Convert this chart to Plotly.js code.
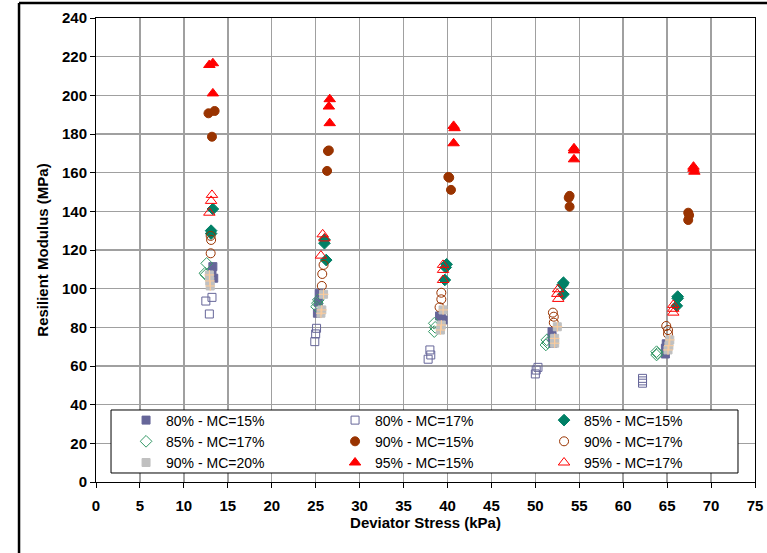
<!DOCTYPE html>
<html>
<head>
<meta charset="utf-8">
<script src="https://cdn.plot.ly/plotly-3.0.1.min.js"></script>
<style>
  html, body { margin: 0; padding: 0; background: #ffffff; }
  #chart { width: 767px; height: 553px; }
</style>
</head>
<body>
<div id="chart"></div>
<script>
// ---- Data ----
var seriesNames = ["80% - MC=15%", "80% - MC=17%", "85% - MC=15%", "85% - MC=17%",
                   "90% - MC=15%", "90% - MC=17%", "90% - MC=20%", "95% - MC=15%", "95% - MC=17%"];

var x80_15 = [13.3, 13.4, 13.2, 25.4, 25.2, 25.3, 39.1, 39.5, 39.3, 51.9, 52.0, 51.9, 64.8, 64.8, 64.9];
var y80_15 = [111.4, 105.4, 108.5, 97.6, 87.3, 93.0, 85.9, 83.8, 84.8, 77.8, 71.8, 74.8, 69.2, 66.2, 71.5];

var x80_17 = [12.5, 13.2, 12.9, 25.1, 25.0, 24.9, 38.0, 37.8, 38.1, 50.3, 50.0, 50.1, 62.2, 62.2, 62.2];
var y80_17 = [93.6, 95.5, 86.9, 79.5, 76.6, 72.6, 68.3, 63.5, 65.7, 59.3, 55.9, 57.9, 53.6, 52.3, 51.1];

var x85_15 = [13.3, 13.1, 13.1, 26.0, 26.2, 26.0, 39.9, 39.7, 39.8, 53.2, 53.2, 53.1, 66.2, 66.1, 66.2];
var y85_15 = [141.2, 130.0, 128.5, 123.5, 114.8, 125.3, 112.6, 104.5, 111.0, 103.1, 97.1, 102.0, 95.9, 91.1, 95.0];

var x85_17 = [12.6, 12.4, 12.5, 25.3, 25.1, 25.2, 38.5, 38.5, 38.6, 51.3, 51.2, 51.4, 63.8, 63.8, 63.9];
var y85_17 = [113.1, 108.0, 107.2, 94.2, 90.7, 92.5, 82.1, 77.8, 80.0, 73.5, 70.9, 72.0, 67.4, 65.7, 66.5];

var x90_15 = [12.8, 13.5, 13.2, 26.4, 26.3, 26.5, 40.2, 40.4, 40.1, 53.9, 53.9, 53.8, 67.4, 67.4, 67.5];
var y90_15 = [190.7, 191.9, 178.6, 171.2, 160.9, 171.5, 157.4, 151.1, 157.8, 148.0, 142.4, 147.0, 139.3, 135.5, 138.0];

var x90_17 = [13.05, 13.1, 13.05, 25.9, 25.75, 25.7, 39.3, 39.3, 39.1, 52.0, 52.1, 52.1, 64.9, 65.1, 65.1];
var y90_17 = [127.3, 125.2, 118.3, 112.3, 107.6, 101.4, 97.9, 94.5, 90.4, 87.6, 85.5, 82.4, 80.7, 78.6, 76.6];

var x90_20 = [12.9, 13.0, 12.95, 25.9, 25.7, 25.6, 39.5, 39.3, 39.2, 52.5, 52.2, 52.2, 65.3, 65.2, 65.1];
var y90_20 = [107.1, 101.4, 104.0, 97.1, 89.0, 87.3, 89.0, 81.2, 78.6, 80.3, 74.3, 71.8, 73.5, 70.5, 68.3];

var x95_15 = [12.9, 13.3, 13.3, 26.6, 26.5, 26.6, 40.7, 40.8, 40.7, 54.4, 54.4, 54.4, 68.0, 68.0, 68.1];
var y95_15 = [215.7, 216.6, 201.0, 198.0, 194.2, 185.6, 184.2, 183.0, 175.2, 172.6, 171.5, 166.9, 163.1, 162.0, 160.5];

var x95_17 = [13.2, 13.1, 12.9, 25.8, 25.6, 26.0, 39.5, 39.5, 39.5, 52.6, 52.5, 52.6, 65.7, 65.7, 65.7];
var y95_17 = [148.5, 145.4, 139.3, 128.1, 117.1, 126.0, 112.3, 109.7, 104.5, 99.7, 97.3, 94.7, 91.6, 89.6, 87.6];

var xTickVals = [0, 5, 10, 15, 20, 25, 30, 35, 40, 45, 50, 55, 60, 65, 70, 75];
var yTickVals = [0, 20, 40, 60, 80, 100, 120, 140, 160, 180, 200, 220, 240];

// ---- Traces ----
function tr(name, xs, ys, symbol, size, fill, lineColor, lineWidth) {
  return {
    type: 'scatter', mode: 'markers', name: name, x: xs, y: ys,
    marker: { symbol: symbol, size: size, color: fill,
              line: { color: lineColor, width: lineWidth } },
    hoverinfo: 'x+y+name'
  };
}

// cross overlay for the grey "90% - MC=20%" markers (no legend entry of its own)
var cross90_20 = tr(seriesNames[6], x90_20, y90_20, 'cross-thin-open', 7, '#ffcc99', '#f5c08a', 1);
cross90_20.showlegend = false;

var data = [
  tr(seriesNames[0], x80_15, y80_15, 'square', 8, '#666699', '#666699', 1),
  tr(seriesNames[1], x80_17, y80_17, 'square-open', 8, '#666699', '#666699', 1),
  tr(seriesNames[2], x85_15, y85_15, 'diamond', 9, '#008066', '#008066', 1),
  tr(seriesNames[3], x85_17, y85_17, 'diamond-open', 9, '#339966', '#339966', 1),
  tr(seriesNames[4], x90_15, y90_15, 'circle', 9, '#993300', '#993300', 1),
  tr(seriesNames[5], x90_17, y90_17, 'circle-open', 9, '#993300', '#993300', 1),
  tr(seriesNames[6], x90_20, y90_20, 'square', 8, '#c0c0c0', '#c0c0c0', 1),
  tr(seriesNames[7], x95_15, y95_15, 'triangle-up', 10, '#ff0000', '#ff0000', 1),
  tr(seriesNames[8], x95_17, y95_17, 'triangle-up-open', 10, '#ff0000', '#ff0000', 1),
  cross90_20
];

var FONT = 'Liberation Sans, Arial, sans-serif';

var layout = {
  width: 767, height: 553,
  margin: { l: 96, r: 12, t: 18, b: 71 },
  paper_bgcolor: '#ffffff',
  plot_bgcolor: '#ffffff',
  font: { family: FONT, color: '#000000' },
  showlegend: true,
  xaxis: {
    range: [0, 75], tickvals: xTickVals, ticktext: xTickVals.map(String),
    showgrid: true, gridcolor: '#a0a0a0', gridwidth: 1.5,
    zeroline: false, showline: true, linecolor: '#000000', linewidth: 1, mirror: true,
    ticks: 'outside', ticklen: 5, tickcolor: '#000000', ticklabelstandoff: 5,
    tickfont: { family: FONT, size: 15, weight: 'bold', color: '#000000' },
    title: { text: 'Deviator Stress (kPa)', font: { family: FONT, size: 15, weight: 'bold', color: '#000000' }, standoff: 3 }
  },
  yaxis: {
    range: [0, 240], tickvals: yTickVals, ticktext: yTickVals.map(String),
    showgrid: true, gridcolor: '#a0a0a0', gridwidth: 1.5,
    zeroline: false, showline: true, linecolor: '#000000', linewidth: 1, mirror: true,
    ticks: 'outside', ticklen: 5, tickcolor: '#000000',
    tickfont: { family: FONT, size: 15, weight: 'bold', color: '#000000' },
    title: { text: 'Resilient Modulus (MPa)', font: { family: FONT, size: 15, weight: 'bold', color: '#000000' }, standoff: 9 }
  },
  legend: {
    orientation: 'h', entrywidth: 164, entrywidthmode: 'pixels',
    x: 0.0456, xanchor: 'left', y: 0.167, yanchor: 'top',
    bgcolor: 'rgba(0,0,0,0)', borderwidth: 0,
    font: { family: FONT, size: 14, color: '#000000' },
    itemclick: false, itemdoubleclick: false
  },
  shapes: [
    // legend box
    { type: 'rect', xref: 'paper', yref: 'paper', x0: 0.0228, x1: 0.9742, y0: 0.0194, y1: 0.1552,
      fillcolor: '#ffffff', line: { color: '#000000', width: 1 }, layer: 'above' },
    // outer chart frame (left and top)
    { type: 'line', xref: 'paper', yref: 'paper', x0: -0.1168, x1: -0.1168, y0: -0.25, y1: 1.0323,
      line: { color: '#000000', width: 2.5 } },
    { type: 'line', xref: 'paper', yref: 'paper', x0: -0.1168, x1: 1.1, y0: 1.0323, y1: 1.0323,
      line: { color: '#000000', width: 2.5 } }
  ]
};

Plotly.newPlot('chart', data, layout, { displayModeBar: false, staticPlot: true });
</script>
</body>
</html>
